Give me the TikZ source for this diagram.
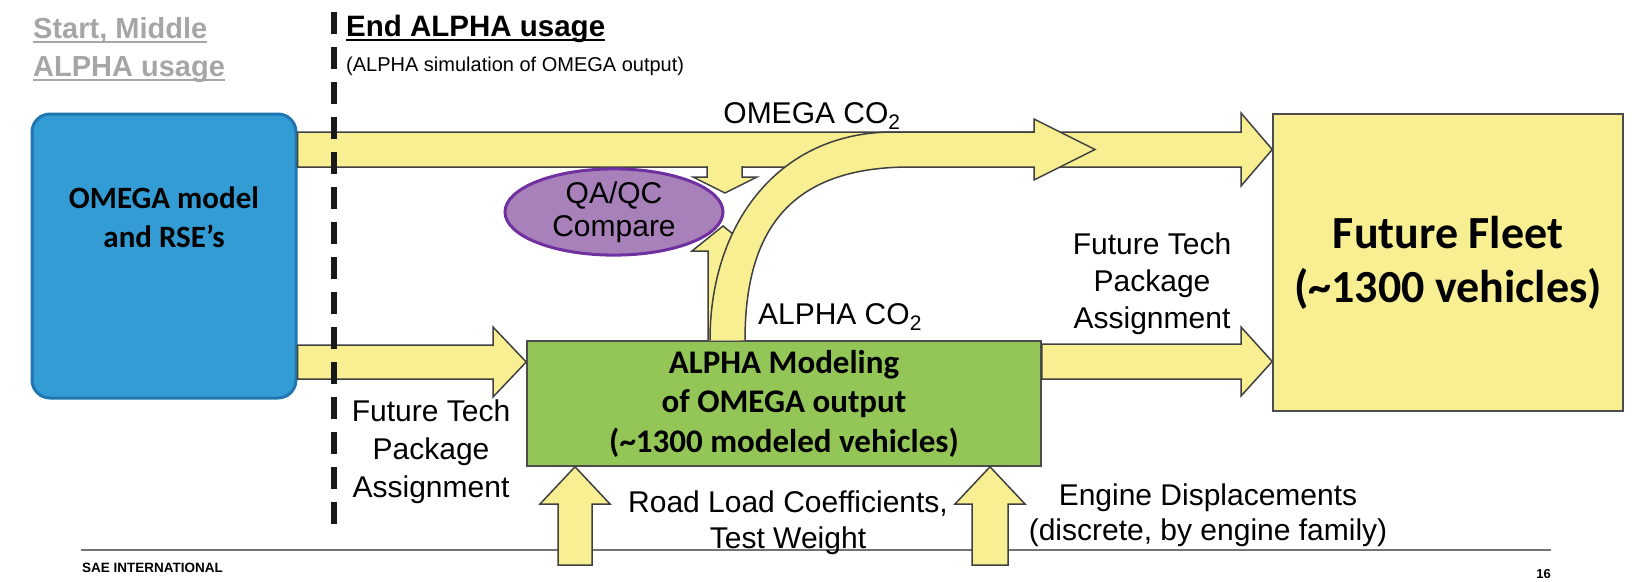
\documentclass[tikz,border=0pt]{standalone}
\usepackage{fontspec}
\setmainfont{Liberation Sans}
\newfontfamily\calibri{Carlito}
\usetikzlibrary{shapes.geometric}
\definecolor{omegablue}{HTML}{339CD4}
\definecolor{omegaedge}{HTML}{1F76B0}
\definecolor{arrowfill}{HTML}{F8EF93}
\definecolor{alphagreen}{HTML}{93C656}
\definecolor{qapurple}{HTML}{A880BA}
\definecolor{qaedge}{HTML}{7030A0}
\definecolor{headgray}{HTML}{A6A6A6}

\begin{document}
\begin{tikzpicture}[x=1pt, y=-1pt,
    fatarrow/.style={fill=arrowfill, draw=black!75, line width=1.5pt, line join=miter},
    lbl/.style={inner sep=0pt, align=center, font=\fontsize{30}{37}\selectfont},
    boxtxt/.style={inner sep=0pt, align=center, font=\calibri\bfseries}]
    \useasboundingbox (0,0) rectangle (1632,581);

    % Headings on the two sides of the cut
    \node[anchor=base west, inner sep=0pt, text=headgray, font=\bfseries\fontsize{29}{36}\selectfont] (startA) at (33,38) {Start, Middle};
    \node[anchor=base west, inner sep=0pt, text=headgray, font=\bfseries\fontsize{29}{36}\selectfont] (startB) at (33,76) {ALPHA usage};
    \node[anchor=base west, inner sep=0pt, font=\bfseries\fontsize{29.5}{36}\selectfont] (endA) at (346,36) {End ALPHA usage};
    \node[anchor=base west, inner sep=0pt, font=\fontsize{20}{24}\selectfont] (endB) at (346,71) {(ALPHA simulation of OMEGA output)};
    \draw[headgray, line width=2pt] ([yshift=-4pt]startA.base west) -- ([yshift=-4pt]startA.base east);
    \draw[headgray, line width=2pt] ([yshift=-4pt]startB.base west) -- ([yshift=-4pt]startB.base east);
    \draw[line width=2pt] ([yshift=-4pt]endA.base west) -- ([yshift=-4pt]endA.base east);

    % Footer
    \draw[black!55, line width=2.5pt] (81,550) -- (1551,550);
    \node[anchor=west, inner sep=0pt, font=\bfseries\fontsize{13.5}{16}\selectfont] (sae) at (82,568) {SAE INTERNATIONAL};
    \node[anchor=east, inner sep=0pt, font=\bfseries\fontsize{13}{15}\selectfont] (page) at (1551,574) {16};

    % Boxes
    \node[draw=omegaedge, fill=omegablue, line width=3pt, rounded corners=18pt,
          minimum width=264pt, minimum height=284pt] (omega) at (164,256) {};
    \node[boxtxt, font=\calibri\bfseries\fontsize{31}{39}\selectfont] (omegatxt) at (164,217) {OMEGA model\\and RSE’s};
    \node[draw=black!70, fill=alphagreen, line width=1.5pt, minimum width=514pt, minimum height=125pt,
          boxtxt, font=\calibri\bfseries\fontsize{33}{39.5}\selectfont] (alpha) at (784,403.5)
          {ALPHA Modeling\\of OMEGA output\\(\char`~1300 modeled vehicles)};
    \node[draw=black!70, fill=arrowfill, line width=1.5pt, minimum width=350pt, minimum height=297pt,
          boxtxt, font=\calibri\bfseries\fontsize{46}{54}\selectfont] (fleet) at (1448,262.5)
          {Future Fleet\\(\char`~1300 vehicles)};

    % OMEGA CO2 straight to the fleet
    \draw[fatarrow] (omega.east |- 0,132) -- (1241,132) -- (1241,113) -- (fleet.west |- 0,149.5)
        -- (1241,186) -- (1241,167) -- (omega.east |- 0,167) -- cycle;

    % Package assignment into ALPHA and on to the fleet
    \draw[fatarrow] (omega.east |- 0,345) -- (493,345) -- (493,327) -- (alpha.west |- 0,362)
        -- (493,397) -- (493,379) -- (omega.east |- 0,379) -- cycle;
    \draw[fatarrow] (alpha.east |- 0,344) -- (1241,344) -- (1241,327) -- (fleet.west |- 0,361.5)
        -- (1241,396) -- (1241,379) -- (alpha.east |- 0,379) -- cycle;

    % QA/QC compare and its two inputs
    \node[ellipse, draw=qaedge, fill=qapurple, line width=3pt, minimum width=218pt, minimum height=80pt,
          inner sep=0pt, align=center, font=\fontsize{30}{33}\selectfont] (qaqc) at (614,212) {QA/QC\\Compare};
    \draw[fatarrow] (707,166) -- (707,177) -- (693,177) -- (725,193) -- (757,177) -- (742,177) -- (742,166);
    \draw[fatarrow] (alpha.north -| 708,0) -- (708,251) -- (692,251) -- (723,226) -- (754,251) -- (740,251) -- (alpha.north -| 740,0);

    % ALPHA CO2 bending up to the fleet
    \draw[fatarrow] (alpha.north -| 710,0) .. controls (710,222) and (780,132) .. (893,132) -- (1034,132) -- (1034,119)
        -- (1095,149.5) -- (1034,180) -- (1034,167) -- (910,167) .. controls (790,167) and (745,230) .. (alpha.north -| 745,0);

    % Inputs from below
    \draw[fatarrow] (558,565) -- (558,504) -- (540,504) -- (alpha.south -| 575,0) -- (610,504) -- (592,504) -- (592,565) -- cycle;
    \draw[fatarrow] (972,565) -- (972,504) -- (955,504) -- (alpha.south -| 990,0) -- (1025,504) -- (1008,504) -- (1008,565) -- cycle;

    % Labels
    \node[lbl, anchor=base] (omegaco2) at (812,123) {OMEGA CO\textsubscript{2}};
    \node[lbl, anchor=base] (alphaco2) at (840,324) {ALPHA CO\textsubscript{2}};
    \node[lbl] (techright) at (1152,284) {Future Tech\\Package\\Assignment};
    \node[lbl, font=\fontsize{30}{38}\selectfont] (techleft) at (431,452) {Future Tech\\Package\\Assignment};
    \node[lbl, font=\fontsize{30}{36}\selectfont] (roadload) at (788,523) {Road Load Coefficients,\\Test Weight};
    \node[lbl, font=\fontsize{30}{35}\selectfont] (engine) at (1208,515) {Engine Displacements\\(discrete, by engine family)};

    % Cut between the two ALPHA usages
    \draw[black!90, line width=6pt, dash pattern=on 22pt off 13pt] (334,12) -- (334,528);
\end{tikzpicture}
\end{document}
